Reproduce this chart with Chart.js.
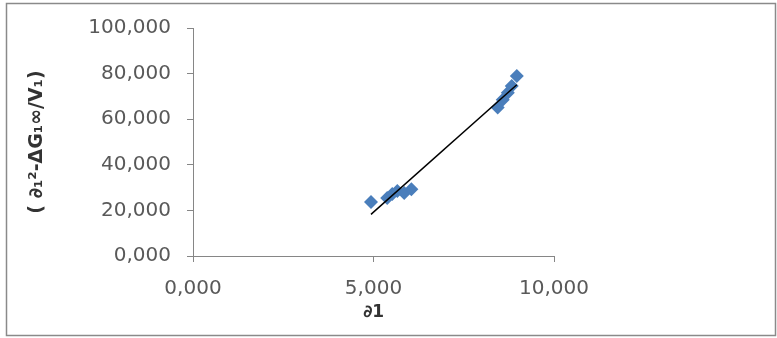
<!DOCTYPE html>
<html>
<head>
<meta charset="utf-8">
<script src="https://cdn.jsdelivr.net/npm/chart.js@4"></script>
<style>
html,body{margin:0;padding:0;background:#fff;}
#wrap{position:relative;width:777px;height:338px;}
canvas{position:absolute;left:0;top:0;}
</style>
</head>
<body>
<div id="wrap"><canvas id="c" width="777" height="338"></canvas></div>
<script>
// ---- data ----
const delta1 = [4.93, 5.38, 5.52, 5.66, 5.85, 6.05, 8.44, 8.58, 8.72, 8.83, 8.97];
const yValues = [23.7, 25.4, 27.2, 28.5, 27.6, 29.3, 65.1, 68.5, 71.6, 74.6, 78.9];
const xTicks = [0, 5, 10];
const yTicks = [0, 20, 40, 60, 80, 100];
const xTitle = '∂1';
const yTitle = '( ∂₁²-ΔG₁\u221E/V₁)';

// linear trendline (least squares) over the data range
function linearFit(xs, ys) {
  const n = xs.length;
  const mx = xs.reduce((a, b) => a + b, 0) / n;
  const my = ys.reduce((a, b) => a + b, 0) / n;
  let sxy = 0, sxx = 0;
  for (let i = 0; i < n; i++) { sxy += (xs[i] - mx) * (ys[i] - my); sxx += (xs[i] - mx) ** 2; }
  const m = sxy / sxx;
  return { m, b: my - m * mx };
}
const fit = linearFit(delta1, yValues);
const xMin = Math.min(...delta1), xMax = Math.max(...delta1);
const trend = [xMin, xMax].map(x => ({ x, y: fit.m * x + fit.b }));
const points = delta1.map((x, i) => ({ x, y: yValues[i] }));

const fmt = v => Number(v).toFixed(3).replace('.', ',');
const FONT = "'DejaVu Sans', sans-serif";

const frame = {
  id: 'frame',
  afterDraw(chart) {
    const ctx = chart.ctx;
    ctx.save();
    ctx.strokeStyle = '#8a8a8a';
    ctx.lineWidth = 1.5;
    ctx.strokeRect(6.5, 3.5, 769, 332);
    ctx.restore();
  }
};

new Chart(document.getElementById('c'), {
  type: 'scatter',
  data: {
    datasets: [
      {
        label: 'data',
        data: points,
        pointStyle: 'rectRot',
        pointRadius: 7,
        pointHoverRadius: 7,
        backgroundColor: '#4A7EBB',
        borderColor: '#4A7EBB',
        borderWidth: 0,
        order: 2
      },
      {
        label: 'trend',
        data: trend,
        type: 'line',
        showLine: true,
        borderColor: '#000000',
        borderWidth: 1.5,
        pointRadius: 0,
        fill: false,
        order: 1
      }
    ]
  },
  options: {
    responsive: false,
    animation: false,
    devicePixelRatio: 1,
    layout: { padding: { left: 18, right: 223, top: 24, bottom: 10 } },
    plugins: { legend: { display: false }, tooltip: { enabled: false } },
    scales: {
      x: {
        type: 'linear',
        min: 0, max: 10,
        afterBuildTicks: s => { s.ticks = xTicks.map(v => ({ value: v })); },
        afterFit: s => { s.height = 338 - 10 - 256; },
        grid: { display: true, drawOnChartArea: false, drawTicks: true, tickLength: 6, color: '#868686', lineWidth: 1 },
        border: { display: true, color: '#868686', width: 1 },
        ticks: { callback: fmt, color: '#595959', font: { family: FONT, size: 20 }, padding: 15, maxRotation: 0 },
        title: { display: true, text: xTitle, color: '#333333', font: { family: FONT, size: 17, weight: 'bold' }, padding: { top: 0, bottom: 5 } }
      },
      y: {
        type: 'linear',
        min: 0, max: 100,
        afterBuildTicks: s => { s.ticks = yTicks.map(v => ({ value: v })); },
        afterFit: s => { s.width = 193 - 18; },
        grid: { display: true, drawOnChartArea: false, drawTicks: true, tickLength: 6, color: '#868686', lineWidth: 1 },
        border: { display: true, color: '#868686', width: 1 },
        ticks: { callback: fmt, color: '#595959', font: { family: FONT, size: 20 }, padding: 16 },
        title: { display: true, text: yTitle, color: '#333333', font: { family: FONT, size: 19, weight: 'bold' }, padding: { top: 8, bottom: 0 } }
      }
    }
  },
  plugins: [frame]
});
</script>
</body>
</html>
